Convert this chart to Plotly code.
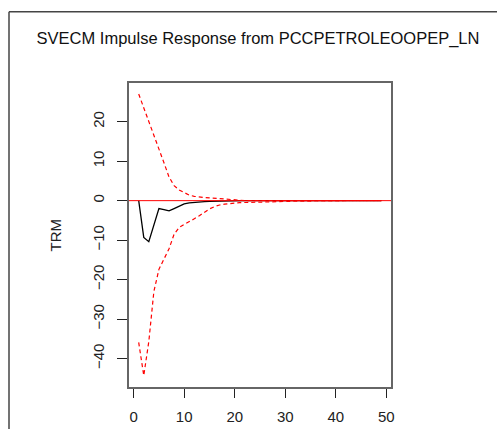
import plotly.graph_objects as go

# ---- data ----
horizon = list(range(1, 50))
irf = [0, -9.3, -10.4, -6.0, -2.0, -2.3, -2.6, -2.0, -1.3, -0.8,
       -0.55, -0.4, -0.3, -0.25, -0.2, -0.15, -0.1, -0.06, -0.03, 0] + [0] * 29
upper = [27.0, 23.6, 20.0, 16.5, 13.0, 9.6, 6.0, 3.8, 2.7, 2.1,
         1.4, 1.1, 0.9, 0.8, 0.7, 0.6, 0.45, 0.35, 0.2, 0.1,
         0.05, 0.02] + [0] * 27
lower = [-35.9, -44.3, -35.7, -23.0, -17.4, -14.6, -12.2, -8.5, -6.8, -6.0,
         -5.4, -4.6, -3.8, -2.9, -2.1, -1.5, -1.1, -0.9, -0.7, -0.6,
         -0.5, -0.45, -0.4, -0.35, -0.3, -0.28, -0.25, -0.22, -0.2, -0.18,
         -0.15, -0.13, -0.12, -0.1, -0.08] + [0] * 14
x_ticks = [0, 10, 20, 30, 40, 50]
y_ticks = [-40, -30, -20, -10, 0, 10, 20]
title_text = "SVECM Impulse Response from PCCPETROLEOOPEP_LN"
y_label = "TRM"

W, H = 498, 437
L, R, T, B = 129, 391, 83, 394

fig = go.Figure()
fig.add_trace(go.Scatter(x=horizon, y=irf, mode="lines",
                         line=dict(color="black", width=1.3)))
fig.add_trace(go.Scatter(x=horizon, y=upper, mode="lines",
                         line=dict(color="red", width=1.2, dash="4px,3px")))
fig.add_trace(go.Scatter(x=horizon, y=lower, mode="lines",
                         line=dict(color="red", width=1.2, dash="4px,3px")))

font = "Liberation Sans, Arial, sans-serif"
fig.update_layout(
    width=W, height=H,
    margin=dict(l=L, r=W - R, t=T, b=H - B, pad=0),
    paper_bgcolor="white", plot_bgcolor="white",
    showlegend=False,
    font=dict(family=font, size=15, color="#222"),
    title=dict(text=title_text, x=258 / W, xref="container", xanchor="center",
               y=1 - 38 / H, yref="container", yanchor="middle",
               font=dict(family=font, size=16.5, color="#111")),
)
fig.update_xaxes(range=[-0.92, 50.92], tickvals=x_ticks, ticks="outside",
                 ticklen=9, tickwidth=1.3, tickcolor="#222",
                 ticklabelstandoff=6,
                 showline=True, mirror=True, linecolor="#666", linewidth=1.6,
                 showgrid=False, zeroline=False,
                 tickfont=dict(size=15, color="#222"))
fig.update_yaxes(range=[-47.2, 29.8], tickvals=y_ticks, ticks="outside",
                 ticklen=10, tickwidth=1.3, tickcolor="#222", tickangle=-90,
                 ticklabelstandoff=7,
                 showline=True, mirror=True, linecolor="#666", linewidth=1.6,
                 showgrid=False, zeroline=False,
                 tickfont=dict(size=15, color="#222"))

# zero line (red, full width)
fig.add_shape(type="line", xref="paper", yref="y", x0=0, x1=1, y0=0, y1=0,
              line=dict(color="red", width=1), layer="above")

# outer frame (top and left edges)
def px(xp):
    return (xp - L) / (R - L)

def py(yp):
    return (B - yp) / (B - T)

fig.add_shape(type="line", xref="paper", yref="paper",
              x0=px(9), x1=px(497), y0=py(10), y1=py(10),
              line=dict(color="#444", width=1.5))
fig.add_shape(type="line", xref="paper", yref="paper",
              x0=px(9), x1=px(9), y0=py(10), y1=py(437),
              line=dict(color="#444", width=1.5))

fig.add_annotation(text=y_label, xref="paper", yref="paper",
                   x=px(55), y=py(239), showarrow=False, textangle=-90,
                   xanchor="center", yanchor="middle",
                   font=dict(family=font, size=15, color="#222"))

fig.write_html("out.html",
               config={"displayModeBar": False},
               post_script="document.body.style.margin='0';"
                           "document.body.style.overflow='hidden';")
